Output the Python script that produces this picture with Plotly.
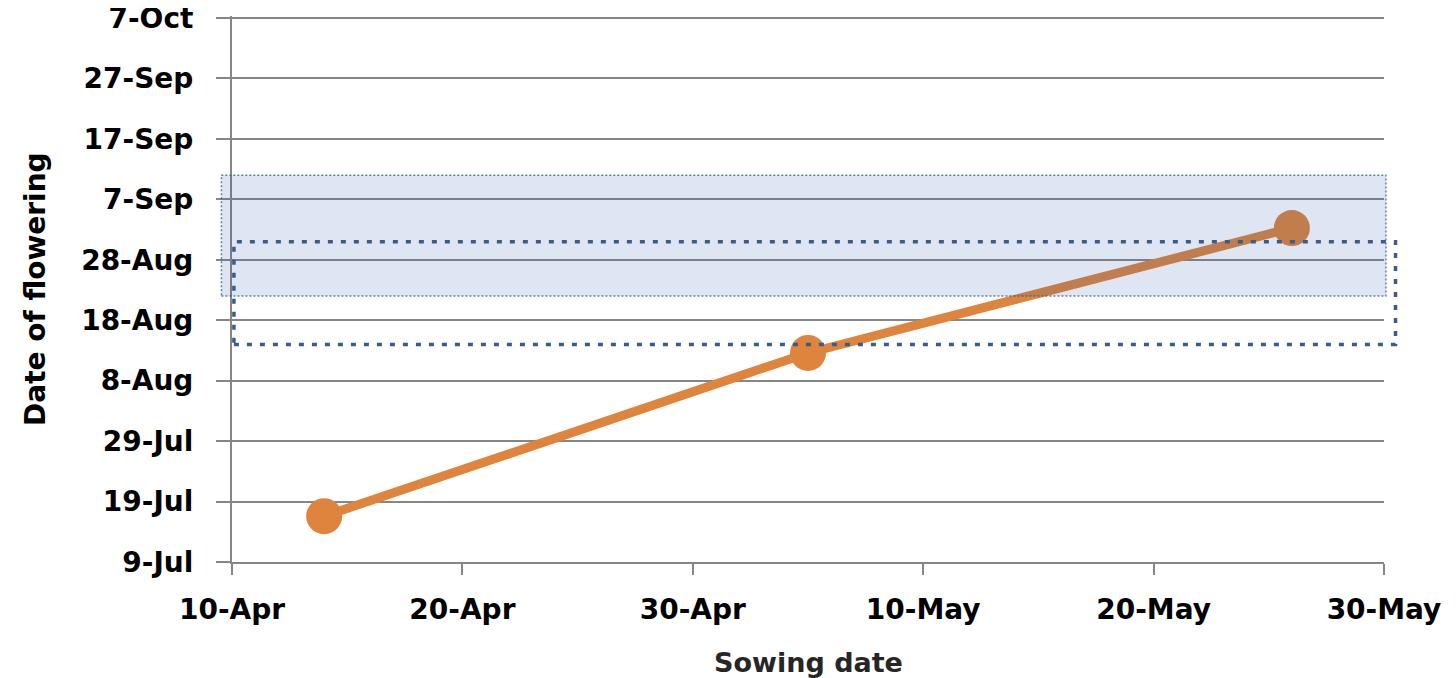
import plotly.graph_objects as go
import pandas as pd

# Data
sowing_dates = ["2013-04-14", "2013-05-05", "2013-05-26"]
flowering_dates = ["2013-07-16 14:00", "2013-08-12 14:00", "2013-09-02 06:00"]

x_range = ["2013-04-10", "2013-05-30"]
y_range = ["2013-07-09", "2013-10-07 08:00"]
y_tick0 = "2013-07-09"

# Shaded band (target flowering window) and dotted window
band_x = ["2013-04-09 13:00", "2013-05-30 02:00"]
band_y = ["2013-08-22", "2013-09-11"]
window_x = ["2013-04-10 02:00", "2013-05-30 12:00"]
window_y = ["2013-08-14", "2013-08-31"]

ORANGE = "#DE843C"
GRID = "#868686"
FONT = "DejaVu Sans"

def to_paper(vals, rng):
    a, b = pd.Timestamp(rng[0]), pd.Timestamp(rng[1])
    return [(pd.Timestamp(v) - a) / (b - a) for v in vals]

fig = go.Figure()
fig.add_trace(go.Scatter(
    x=sowing_dates, y=flowering_dates, mode="lines+markers",
    line=dict(color=ORANGE, width=9),
    marker=dict(color=ORANGE, size=36),
    showlegend=False, cliponaxis=False,
))

bx = to_paper(band_x, x_range)
by = to_paper(band_y, y_range)
wx = to_paper(window_x, x_range)
wy = to_paper(window_y, y_range)

fig.add_shape(type="rect", xref="paper", yref="paper",
              x0=bx[0], x1=bx[1], y0=by[0], y1=by[1],
              fillcolor="rgba(30,90,170,0.15)",
              line=dict(color="rgba(60,95,150,0.8)", width=1.5, dash="2px,2px"),
              layer="above")
fig.add_shape(type="rect", xref="paper", yref="paper",
              x0=wx[0], x1=wx[1], y0=wy[0], y1=wy[1],
              fillcolor="rgba(0,0,0,0)",
              line=dict(color="#385D8A", width=3.5, dash="5px,8px"),
              layer="above")

DAY10 = 10 * 86400000
fig.update_xaxes(
    type="date", range=x_range, tick0=x_range[0], dtick=DAY10,
    tickformat="%-d-%b", showgrid=False, zeroline=False, automargin=False,
    showline=True, linecolor=GRID, linewidth=2,
    ticks="outside", ticklen=11, tickwidth=2, tickcolor=GRID,
    tickfont=dict(family=FONT, size=28, color="black", weight="bold"),
    ticklabelstandoff=10, ticklabeloverflow="allow",
)
fig.update_yaxes(
    type="date", range=y_range, tick0=y_tick0, dtick=DAY10,
    tickformat="%-d-%b", showgrid=True, gridcolor=GRID, gridwidth=2,
    zeroline=False, showline=True, linecolor=GRID, linewidth=2, automargin=False,
    ticks="outside", ticklen=14, tickwidth=2, tickcolor=GRID,
    tickfont=dict(family=FONT, size=28, color="black", weight="bold"),
    ticklabelstandoff=17, ticklabeloverflow="allow",
)

fig.add_annotation(text="Date of flowering", xref="paper", yref="paper",
                   x=-0.171, y=0.5, xanchor="center", yanchor="middle",
                   textangle=-90, showarrow=False,
                   font=dict(family=FONT, size=28, color="black", weight="bold"))
fig.add_annotation(text="Sowing date", xref="paper", yref="paper",
                   x=0.5, y=-0.184, xanchor="center", yanchor="middle",
                   showarrow=False,
                   font=dict(family=FONT, size=27, color="#262626", weight="bold"))

fig.update_layout(
    width=1456, height=678,
    margin=dict(l=224, r=80, t=8, b=124, autoexpand=False),
    plot_bgcolor="white", paper_bgcolor="white",
)

fig.write_html("out.html")
